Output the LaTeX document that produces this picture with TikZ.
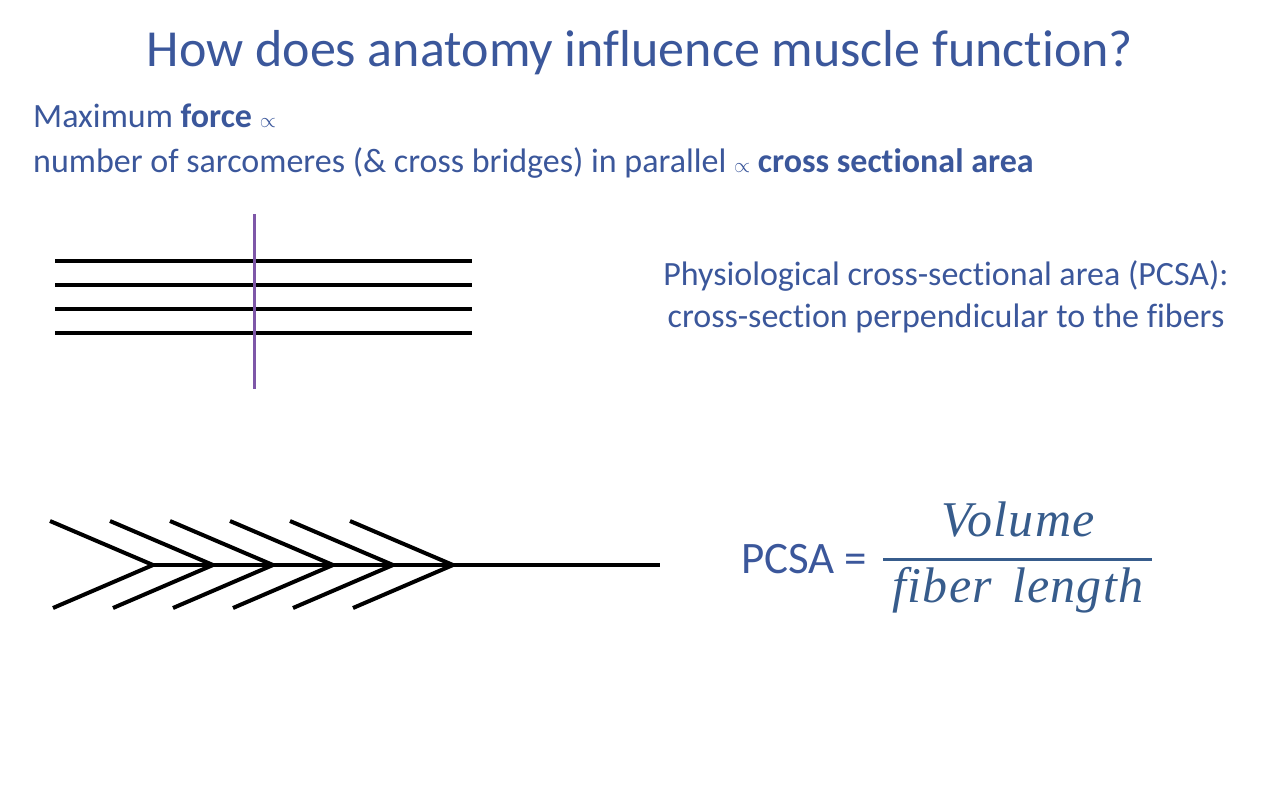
\documentclass[tikz,border=0pt]{standalone}
\usepackage{fontspec}
\setmainfont{Carlito}[Ligatures=NoCommon]
\newfontfamily\formulafont{Liberation Serif}[LetterSpace=2.5]
\usepackage{tikz}
\usetikzlibrary{calc}
\definecolor{slideblue}{RGB}{59,87,155}
\definecolor{formulablue}{RGB}{55,92,140}
\definecolor{cutpurple}{RGB}{126,87,168}

\tikzset{
  slidetext/.style={text=slideblue, inner sep=0pt, font=\fontsize{34}{40}\selectfont},
  fiber/.style={line width=4pt, black},
  formula/.style={text=formulablue, inner sep=0pt, anchor=base, font=\formulafont\itshape\fontsize{50}{50}\selectfont},
}
\newcommand{\prop}{{\fontsize{20}{20}\selectfont$\propto$}}

\begin{document}
\begin{tikzpicture}[x=1pt, y=-1pt]
  \useasboundingbox (0,0) rectangle (1280,800);
  \node[text=slideblue, font=\fontsize{52}{60}\selectfont] (title) at (640, 53) {How does anatomy influence muscle function?};
  \node[slidetext, anchor=base west] (maxforce) at (33, 128) {Maximum \textbf{force} \prop};
  \node[slidetext, anchor=base west] (sarcomeres) at (33, 172) {number of sarcomeres (\& cross bridges) in parallel \prop{} \textbf{cross sectional area}};
  % parallel fibers with the cut
  \begin{scope}
    \foreach \y in {261, 285, 309, 333}
      \draw[fiber] (55, \y) -- (472, \y);
    \draw[line width=3pt, cutpurple] (254, 214) -- (254, 389);
  \end{scope}
  \node[slidetext, align=center, font=\fontsize{34}{42}\selectfont] (pcsadef) at (946, 297) {Physiological cross-sectional area (PCSA):\\cross-section perpendicular to the fibers};
  % pennate fibers
  \begin{scope}[shift={(0, 565)}]
    \draw[fiber] (153, 0) -- (660, 0);
    \foreach \i in {0,...,5}
      \draw[fiber] ($(50+60*\i, -44)$) -- ($(153+60*\i, 0)$) -- ($(53+60*\i, 43)$);
  \end{scope}
  % formula
  \node[slidetext, anchor=base west, font=\fontsize{45}{45}\selectfont] (pcsa) at (741, 573) {PCSA =};
  \draw[formulablue, line width=3pt] (883, 559) -- (1152, 559);
  \node[formula] (volume) at (1018, 536) {Volume};
  \node[formula] (fiberlen) at (1018, 602) {fiber\hspace{0.4em}length};
\end{tikzpicture}
\end{document}
